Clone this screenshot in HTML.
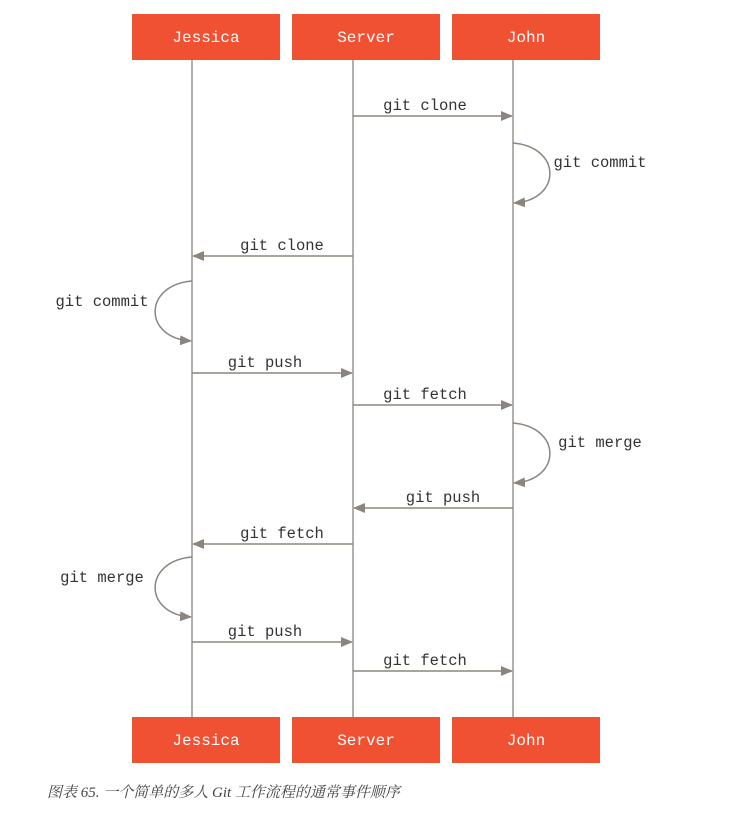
<!DOCTYPE html>
<html><head><meta charset="utf-8"><style>
body{margin:0;background:#fff;width:733px;height:825px;overflow:hidden}
</style></head><body>
<svg width="733" height="825" xmlns="http://www.w3.org/2000/svg" style="position:absolute;left:0;top:0">
<defs><marker id="a" markerWidth="12" markerHeight="10" refX="11" refY="5" orient="auto" markerUnits="userSpaceOnUse"><path d="M0,0 L12,5 L0,10 Z" fill="#8b857e"/></marker></defs>
<g stroke="#9a958f" stroke-width="1.5" fill="none">
<line x1="192" y1="60" x2="192" y2="717"/>
<line x1="353" y1="60" x2="353" y2="717"/>
<line x1="513" y1="60" x2="513" y2="717"/>
</g>
<g stroke="#8b857e" stroke-width="1.5" fill="none" marker-end="url(#a)">
<line x1="353" y1="116" x2="512" y2="116"/>
<path d="M513,143 C562,147 562,200 514,203"/>
<line x1="353" y1="256" x2="193" y2="256"/>
<path d="M192,281 C143,285 143,338 191,341"/>
<line x1="192" y1="373" x2="352" y2="373"/>
<line x1="353" y1="405" x2="512" y2="405"/>
<path d="M513,423 C562,427 562,480 514,483"/>
<line x1="513" y1="508" x2="354" y2="508"/>
<line x1="353" y1="544" x2="193" y2="544"/>
<path d="M192,557 C143,561 143,614 191,617"/>
<line x1="192" y1="642" x2="352" y2="642"/>
<line x1="353" y1="671" x2="512" y2="671"/>
</g>
<g fill="#f05133">
<rect x="132" y="14" width="148" height="46"/><rect x="292" y="14" width="148" height="46"/><rect x="452" y="14" width="148" height="46"/>
<rect x="132" y="717" width="148" height="46"/><rect x="292" y="717" width="148" height="46"/><rect x="452" y="717" width="148" height="46"/>
</g>
<g font-family="Liberation Mono, monospace" font-size="16" fill="#fff" text-anchor="middle">
<text x="206" y="42">Jessica</text><text x="366" y="42">Server</text><text x="526" y="42">John</text>
<text x="206" y="745">Jessica</text><text x="366" y="745">Server</text><text x="526" y="745">John</text>
</g>
<g font-family="Liberation Mono, monospace" font-size="15.5" fill="#333" text-anchor="middle">
<text x="425" y="110">git clone</text>
<text x="600" y="167">git commit</text>
<text x="282" y="250">git clone</text>
<text x="102" y="306">git commit</text>
<text x="265" y="367">git push</text>
<text x="425" y="399">git fetch</text>
<text x="600" y="447">git merge</text>
<text x="443" y="502">git push</text>
<text x="282" y="538">git fetch</text>
<text x="102" y="582">git merge</text>
<text x="265" y="636">git push</text>
<text x="425" y="665">git fetch</text>
</g>
<text x="47" y="797" font-family="Liberation Serif, Noto Serif CJK SC, serif" font-style="italic" font-size="15" fill="#444">图表 65. 一个简单的多人 Git 工作流程的通常事件顺序</text>
</svg>
</body></html>
